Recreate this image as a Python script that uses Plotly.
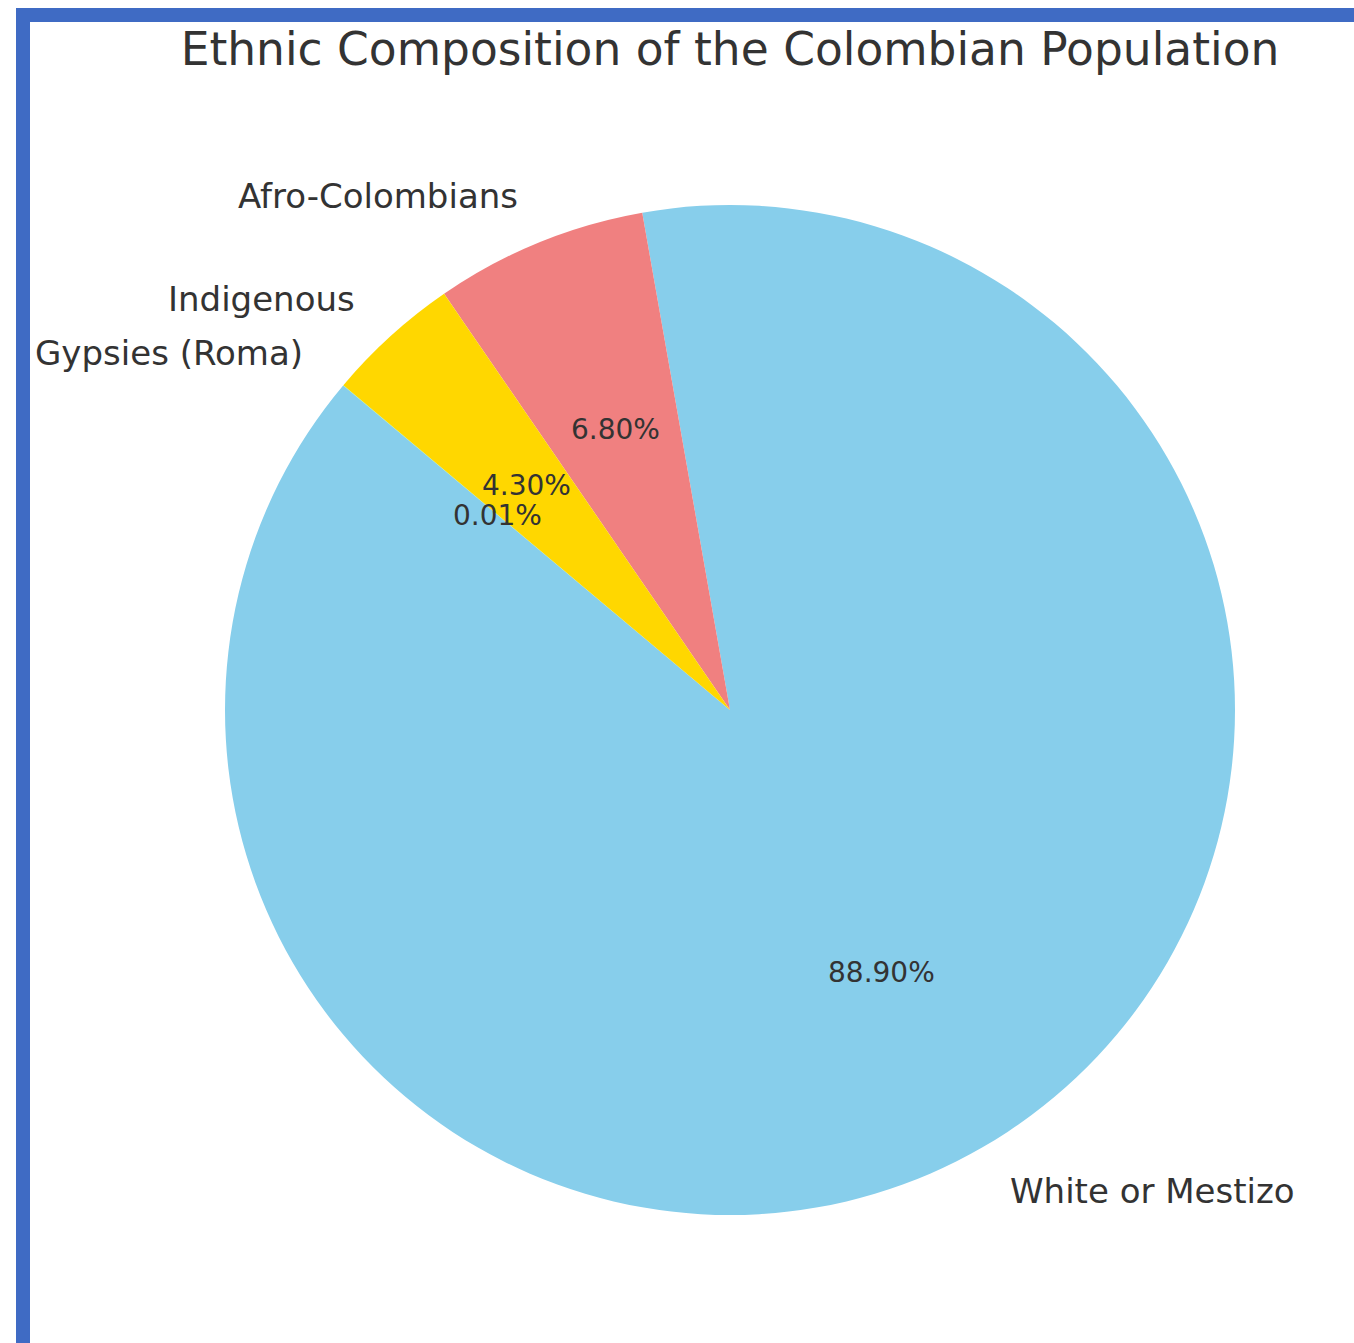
import math
import plotly.graph_objects as go

# ---- data ----
categories = ["White or Mestizo", "Afro-Colombians", "Indigenous", "Gypsies (Roma)"]
shares = [88.9, 6.8, 4.3, 0.01]
colors = ["#87CEEB", "#F08080", "#FFD700", "#90EE90"]
title_text = "Ethnic Composition of the Colombian Population"

W, H = 1354, 1343
ML, MR, MT, MB = 225, 119, 205, 128
PW, PH = W - ML - MR, H - MT - MB
START_DEG = 140.0  # start angle (math convention), counterclockwise

FONT = "DejaVu Sans"
TXT = "#333333"

total = sum(shares)
# plotly (counterclockwise): the first slice ends at `rotation` (clockwise degrees from 12 o'clock)
first_end = START_DEG + 360.0 * shares[0] / total
rotation = -(first_end - 90.0)
rotation = ((rotation + 180.0) % 360.0) - 180.0

fig = go.Figure(
    go.Pie(
        labels=categories,
        values=shares,
        sort=False,
        direction="counterclockwise",
        rotation=rotation,
        marker=dict(colors=colors, line=dict(width=0)),
        textinfo="none",
        hoverinfo="label+percent",
        showlegend=False,
    )
)

# text placement derived from the data (labels at 1.1R, percentages at 0.6R)
ang = START_DEG
annotations = []
for name, v in zip(categories, shares):
    span = 360.0 * v / total
    mid = math.radians(ang + span / 2)
    ang += span
    c, s = math.cos(mid), math.sin(mid)
    annotations.append(dict(
        x=0.5 + 0.5 * 1.1 * c, y=0.5 + 0.5 * 1.1 * s, xref="paper", yref="paper",
        text=name, showarrow=False, xanchor="left" if c > 0 else "right", yanchor="middle",
        font=dict(family=FONT, size=34, color=TXT),
    ))
    annotations.append(dict(
        x=0.5 + 0.5 * 0.6 * c, y=0.5 + 0.5 * 0.6 * s, xref="paper", yref="paper",
        text=f"{v:.2f}%", showarrow=False,
        xanchor="center", yanchor="middle",
        font=dict(family=FONT, size=28, color=TXT),
    ))

def px_x(p):
    return (p - ML) / PW

def px_y(p):
    return (H - MB - p) / PH

border = "#3F6BC4"
shapes = [
    dict(type="rect", xref="paper", yref="paper", x0=px_x(16), x1=px_x(1360), y0=px_y(22), y1=px_y(8),
         fillcolor=border, line=dict(width=0), layer="above"),
    dict(type="rect", xref="paper", yref="paper", x0=px_x(16), x1=px_x(30), y0=px_y(1350), y1=px_y(8),
         fillcolor=border, line=dict(width=0), layer="above"),
]

fig.update_layout(
    width=W, height=H,
    margin=dict(l=ML, r=MR, t=MT, b=MB),
    paper_bgcolor="white", plot_bgcolor="white",
    title=dict(text=title_text, x=730 / W, xanchor="center", y=1 - 49 / H, yanchor="middle",
               font=dict(family=FONT, size=45.5, color=TXT)),
    annotations=annotations,
    shapes=shapes,
)

fig.write_html("out.html")
